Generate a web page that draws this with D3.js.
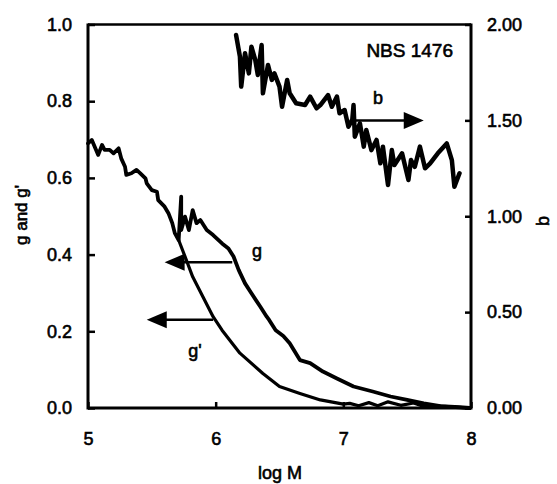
<!DOCTYPE html>
<html>
<head>
<meta charset="utf-8">
<script src="https://cdn.jsdelivr.net/npm/d3@7"></script>
<style>
  body { margin: 0; background: #fff; }
  svg text { font-family: "Liberation Sans", Arial, sans-serif; fill: #000; stroke: #000; stroke-width: 0.6px; }
  .axis text { font-size: 18px; }
  .axis .domain { display: none; }
  .axis line { stroke: #000; stroke-width: 2.5; }
</style>
</head>
<body>
<div class="stage"></div>
<script>
// log M values and g (left axis)
var gX = [5.00, 5.03, 5.08, 5.11, 5.13, 5.17, 5.20, 5.24, 5.26, 5.29, 5.30, 5.34, 5.38, 5.41,
  5.45, 5.46, 5.50, 5.54, 5.55, 5.60, 5.63, 5.66, 5.68, 5.71, 5.73, 5.73, 5.76, 5.79, 5.82,
  5.85, 5.88, 5.93, 5.98, 6.05, 6.10, 6.14, 6.18, 6.23, 6.28, 6.35, 6.40, 6.42, 6.47, 6.53,
  6.58, 6.66, 6.74, 6.84, 6.95, 7.08, 7.23, 7.37, 7.50, 7.63, 7.76, 7.91, 7.99];
var gY = [0.690, 0.699, 0.660, 0.686, 0.673, 0.673, 0.664, 0.677, 0.651, 0.629, 0.608, 0.612,
  0.621, 0.612, 0.599, 0.586, 0.568, 0.564, 0.542, 0.525, 0.508, 0.482, 0.456, 0.438, 0.551,
  0.464, 0.499, 0.464, 0.516, 0.482, 0.490, 0.464, 0.451, 0.429, 0.416, 0.395, 0.360, 0.325,
  0.299, 0.264, 0.238, 0.229, 0.203, 0.188, 0.169, 0.125, 0.117, 0.095, 0.077, 0.056, 0.043,
  0.030, 0.021, 0.012, 0.005, 0.002, 0.000];

// g' (left axis)
var gpX = [5.71, 5.76, 5.82, 5.90, 5.98, 6.05, 6.19, 6.37, 6.50, 6.66, 6.82, 7.00, 7.05, 7.12,
  7.20, 7.27, 7.35, 7.45, 7.55, 7.62, 7.70, 7.85, 7.99];
var gpY = [0.438, 0.395, 0.342, 0.290, 0.238, 0.203, 0.143, 0.090, 0.056, 0.038, 0.021, 0.010,
  0.012, 0.006, 0.014, 0.006, 0.016, 0.007, 0.013, 0.005, 0.006, 0.003, 0.000];

// b (right axis)
var bX = [6.16, 6.19, 6.20, 6.23, 6.26, 6.28, 6.31, 6.33, 6.36, 6.37, 6.41, 6.44, 6.46, 6.50,
  6.52, 6.56, 6.58, 6.63, 6.70, 6.74, 6.79, 6.82, 6.88, 6.91, 6.95, 6.97, 7.01, 7.04, 7.07,
  7.08, 7.09, 7.13, 7.16, 7.18, 7.22, 7.26, 7.29, 7.31, 7.35, 7.38, 7.40, 7.46, 7.51, 7.53,
  7.56, 7.60, 7.64, 7.68, 7.74, 7.81, 7.85, 7.87, 7.91];
var bY = [1.945, 1.832, 1.676, 1.850, 1.745, 1.884, 1.815, 1.737, 1.893, 1.641, 1.789, 1.711,
  1.745, 1.676, 1.571, 1.711, 1.641, 1.589, 1.580, 1.624, 1.563, 1.580, 1.632, 1.571, 1.624,
  1.537, 1.554, 1.467, 1.502, 1.580, 1.415, 1.485, 1.363, 1.450, 1.345, 1.398, 1.276, 1.363,
  1.163, 1.345, 1.267, 1.328, 1.189, 1.293, 1.258, 1.363, 1.250, 1.276, 1.328, 1.380, 1.293,
  1.154, 1.224];

var xTicks = [5, 6, 7, 8];
var gTicks = [0, 0.2, 0.4, 0.6, 0.8, 1.0];
var bTicks = [0, 0.5, 1.0, 1.5, 2.0];

var W = 557, H = 484;
var pL = 88, pR = 471, pT = 24.5, pB = 408;

var svg = d3.select(".stage").append("svg")
  .attr("width", W)
  .attr("height", H);

var x = d3.scaleLinear().domain([5, 8]).range([pL, pR]);
var yg = d3.scaleLinear().domain([0, 1]).range([pB, pT]);
var yb = d3.scaleLinear().domain([0, 2]).range([pB, pT]);

// axes (ticks point inward)
svg.append("g").attr("class", "axis")
  .attr("transform", "translate(" + pL + ",0)")
  .call(d3.axisLeft(yg).tickValues(gTicks).tickFormat(d3.format(".1f"))
    .tickSizeInner(-7).tickSizeOuter(0).tickPadding(16));

svg.append("g").attr("class", "axis")
  .attr("transform", "translate(" + pR + ",0)")
  .call(d3.axisRight(yb).tickValues(bTicks).tickFormat(d3.format(".2f"))
    .tickSizeInner(-6).tickSizeOuter(0).tickPadding(16));

svg.append("g").attr("class", "axis")
  .attr("transform", "translate(0," + pB + ")")
  .call(d3.axisBottom(x).tickValues(xTicks).tickFormat(d3.format("d"))
    .tickSizeInner(-6).tickSizeOuter(0).tickPadding(24));

// frame
svg.append("line").attr("x1", pL).attr("x2", pR).attr("y1", pT).attr("y2", pT)
  .attr("stroke", "#000").attr("stroke-width", 2.5);
svg.append("line").attr("x1", pL).attr("x2", pR).attr("y1", pB).attr("y2", pB)
  .attr("stroke", "#000").attr("stroke-width", 3);
svg.append("line").attr("x1", pL).attr("x2", pL).attr("y1", pT - 1).attr("y2", pB + 1.5)
  .attr("stroke", "#000").attr("stroke-width", 3);
svg.append("line").attr("x1", pR).attr("x2", pR).attr("y1", pT - 1).attr("y2", pB + 1.5)
  .attr("stroke", "#000").attr("stroke-width", 3);

// curves
function draw(xs, ys, yScale, w){
  var pts = xs.map(function(v, i){ return [v, ys[i]] })
  var line = d3.line()
    .x(function(d){ return x(d[0]) })
    .y(function(d){ return yScale(d[1]) })
  svg.append("path")
    .attr("d", line(pts))
    .attr("fill", "none")
    .attr("stroke", "#000")
    .attr("stroke-width", w)
    .attr("stroke-linejoin", "round")
    .attr("stroke-linecap", "round")
}
draw(gpX, gpY, yg, 3.2)
draw(gX, gY, yg, 3.8)
draw(bX, bY, yb, 4.5)

// arrows
function arrow(x1, x2, yv, yScale){
  var px1 = x(x1), px2 = x(x2), py = yScale(yv)
  var dir = px2 > px1 ? 1 : -1
  var headLen = 20, headH = 8.5
  svg.append("line")
    .attr("x1", px1).attr("x2", px2 - dir * headLen + dir * 2)
    .attr("y1", py).attr("y2", py)
    .attr("stroke", "#000").attr("stroke-width", 2.5)
  svg.append("path")
    .attr("d", "M" + px2 + "," + py
      + "L" + (px2 - dir * headLen) + "," + (py - headH)
      + "L" + (px2 - dir * headLen) + "," + (py + headH) + "Z")
    .attr("fill", "#000")
}
arrow(7.05, 7.63, 1.50, yb)
arrow(6.13, 5.60, 0.38, yg)
arrow(5.98, 5.46, 0.23, yg)

// labels
svg.append("text").attr("x", 378).attr("y", 104).attr("text-anchor", "middle")
  .style("font-size", "18px").text("b")
svg.append("text").attr("x", 257).attr("y", 257).attr("text-anchor", "middle")
  .style("font-size", "18px").text("g")
svg.append("text").attr("x", 195).attr("y", 357).attr("text-anchor", "middle")
  .style("font-size", "18px").text("g'")
svg.append("text").attr("x", 453).attr("y", 57).attr("text-anchor", "end")
  .style("font-size", "19px").text("NBS 1476")

svg.append("text").attr("x", 280).attr("y", 479).attr("text-anchor", "middle")
  .style("font-size", "18px").text("log M")
svg.append("text").attr("transform", "translate(27,215) rotate(-90)")
  .attr("text-anchor", "middle").style("font-size", "17px").text("g and g'")
svg.append("text").attr("transform", "translate(549,221) rotate(-90)")
  .attr("text-anchor", "middle").style("font-size", "18px").text("b")
</script>
</body>
</html>
